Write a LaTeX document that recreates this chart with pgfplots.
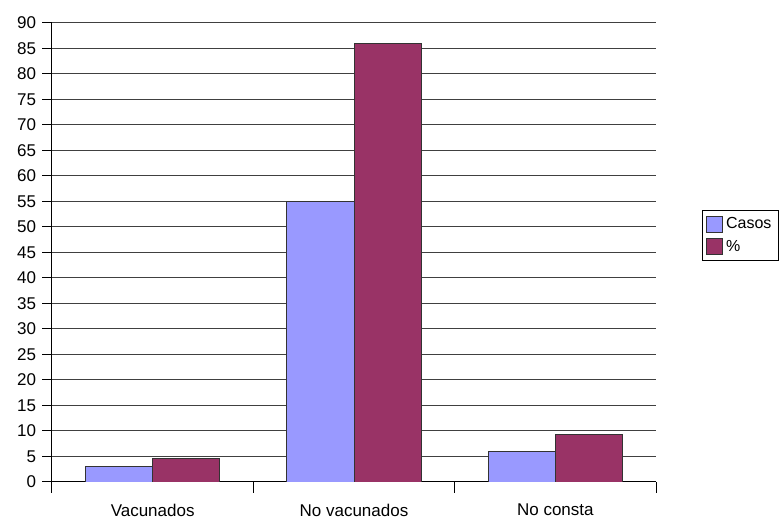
\documentclass[border=0pt]{standalone}
\usepackage{fontspec}
\setmainfont{Liberation Sans}
\usepackage{pgfplots}
\usepackage{pgfplotstable}
\pgfplotsset{compat=1.18}

\definecolor{casos}{HTML}{9999FF}
\definecolor{pct}{HTML}{993366}

% Vacunados, No vacunados, No consta
\pgfplotstableread{
x casos pct
0 3  4.69
1 55 85.94
2 6  9.38
}\datos

\pgfplotsset{
  cuadro/.style={
    legend image code/.code={\draw[##1,line width=0.8bp] (0bp,-8bp) rectangle (16bp,8bp);}
  }
}

\begin{document}
\begin{tikzpicture}
\begin{axis}[
  name=ax,
  width=604bp, height=459bp, scale only axis,
  xmin=-0.5, xmax=2.5,
  ymin=0, ymax=90,
  ytick distance=5,
  xtick={0,1,2},
  xticklabels={Vacunados, No vacunados, No consta},
  minor xtick={-0.5,0.5,1.5,2.5},
  axis lines*=left,
  axis line style={black, line width=1bp},
  tick align=outside,
  major tick length=9.5bp,
  minor tick length=11bp,
  major x tick style={draw=none},
  tick style={black, line width=1bp},
  ymajorgrids,
  grid style={black!75, line width=1bp},
  /pgf/number format/assume math mode=true,
  tick label style={font=\fontsize{17bp}{20bp}\selectfont},
  yticklabel style={xshift=-3bp},
  xticklabel style={yshift=-9bp},
  legend style={
    at={(1.076,0.592)}, anchor=north west,
    draw=black, line width=0.8bp, fill=white,
    font=\fontsize{16bp}{19bp}\selectfont,
    inner xsep=4bp, inner ysep=5bp,
    row sep=6bp,
    nodes={inner xsep=3bp, inner ysep=1bp},
  },
  legend cell align=left,
]
\addplot[ybar, bar width=0.3333, bar shift=-0.16667,
  fill=casos, draw=black!80, line width=0.9bp, cuadro]
  table[x=x, y=casos] {\datos};
\addlegendentry{Casos}
\addplot[ybar, bar width=0.3333, bar shift=0.16667,
  fill=pct, draw=black!80, line width=0.9bp, cuadro]
  table[x=x, y=pct] {\datos};
\addlegendentry{\%}
\end{axis}
\pgfresetboundingbox
\path[use as bounding box]
  ([xshift=-52bp,yshift=-41bp]ax.south west) rectangle
  ([xshift=125bp,yshift=23bp]ax.north east);
\end{tikzpicture}
\end{document}
